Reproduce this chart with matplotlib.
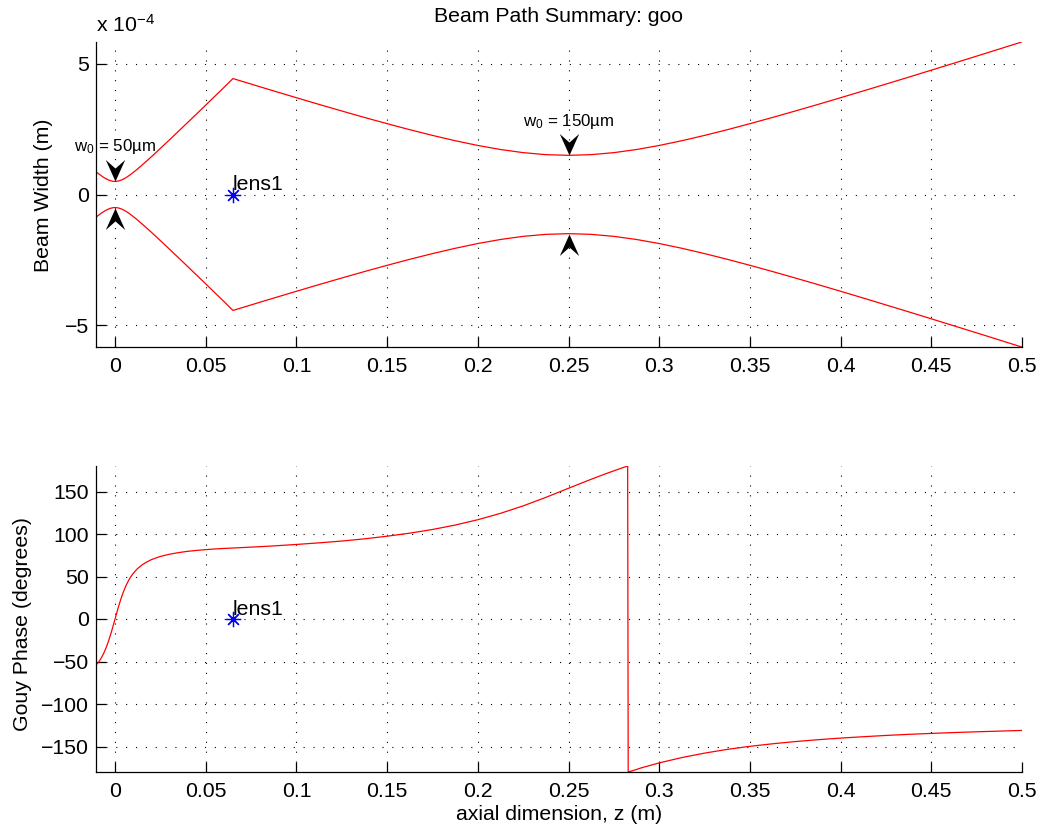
import numpy as np
import matplotlib
matplotlib.use("Agg")
import matplotlib.pyplot as plt
from matplotlib.path import Path
from matplotlib.ticker import FormatStrFormatter

plt.rcParams['font.family'] = ['Liberation Sans', 'DejaVu Sans']
plt.rcParams['mathtext.fontset'] = 'custom'
plt.rcParams['mathtext.rm'] = 'Liberation Sans'
plt.rcParams['mathtext.it'] = 'Liberation Sans'
plt.rcParams['lines.scale_dashes'] = False

RED = "#ff0000"
BLUE = "#0000ff"
FS = 15.3

# beam radius (units of 1e-4 m) along z (m)
z_beam = [-0.01, -0.00875, -0.0075, -0.00625, -0.005, -0.00375, -0.0025, -0.00125,
          0.0, 0.00125, 0.0025, 0.00375, 0.005, 0.00625, 0.0075, 0.00875, 0.01,
          0.01125, 0.0125, 0.015, 0.0175, 0.02, 0.0225, 0.025, 0.03, 0.035,
          0.04, 0.045, 0.05, 0.055, 0.06, 0.065,
          0.08, 0.0875, 0.1, 0.1125, 0.125, 0.1375, 0.15, 0.1625, 0.175, 0.1875,
          0.2, 0.2125, 0.225, 0.2375, 0.25, 0.2625, 0.275, 0.2875, 0.3, 0.3125,
          0.325, 0.3375, 0.35, 0.3625, 0.375, 0.3875, 0.4, 0.4125, 0.425, 0.4375,
          0.45, 0.4625, 0.475, 0.4875, 0.5]
w_beam = [0.842, 0.776, 0.713, 0.655, 0.604, 0.561, 0.528, 0.507,
          0.5, 0.507, 0.528, 0.561, 0.604, 0.655, 0.713, 0.776, 0.842,
          0.912, 0.984, 1.133, 1.287, 1.444, 1.604, 1.767, 2.093, 2.423,
          2.756, 3.089, 3.424, 3.760, 4.096, 4.44,
          4.123, 3.966, 3.706, 3.449, 3.198, 2.951, 2.712, 2.481, 2.263, 2.060,
          1.878, 1.723, 1.603, 1.526, 1.5, 1.526, 1.603, 1.723, 1.878, 2.060,
          2.263, 2.481, 2.712, 2.951, 3.198, 3.449, 3.706, 3.966, 4.229, 4.493,
          4.761, 5.029, 5.299, 5.571, 5.844]

# Gouy phase (degrees)
z_gouy = [-0.01, -0.00875, -0.0075, -0.00625, -0.005, -0.00375, -0.0025, -0.00125,
          0.0, 0.00125, 0.0025, 0.00375, 0.005, 0.00625, 0.0075, 0.00875, 0.01,
          0.01125, 0.0125, 0.015, 0.0175, 0.02, 0.0225, 0.025, 0.03, 0.035,
          0.04, 0.045, 0.05, 0.055, 0.06, 0.065,
          0.08, 0.0875, 0.1, 0.1125, 0.125, 0.1375, 0.15, 0.1625, 0.175, 0.1875,
          0.2, 0.2125, 0.225, 0.2375, 0.25, 0.26, 0.2625, 0.27, 0.28, 0.2826,
          0.2829, 0.2875, 0.29, 0.3, 0.3125, 0.325, 0.3375, 0.35, 0.3625, 0.375,
          0.3875, 0.4, 0.4125, 0.425, 0.4375, 0.45, 0.4625, 0.475, 0.4875, 0.5]
gouy = [-53.0, -49.9, -45.5, -40.3, -34.1, -26.9, -18.7, -9.6,
        0.0, 9.6, 18.7, 26.9, 34.1, 40.3, 45.5, 49.9, 53.6,
        56.7, 59.5, 63.8, 67.1, 69.8, 71.8, 73.6, 76.2, 78.1,
        79.6, 80.7, 81.6, 82.4, 83.0, 83.5,
        85.1, 86.0, 87.7, 89.6, 91.7, 94.3, 97.4, 101.0, 105.3, 110.5,
        116.8, 124.3, 133.1, 143.1, 153.8, 162.3, 164.4, 170.5, 178.1, 180.0,
        -180.0, -177.0, -175.2, -169.3, -163.0, -157.8, -153.4, -149.8, -146.8, -144.2,
        -142.0, -140.1, -138.5, -137.0, -135.7, -134.6, -133.6, -132.7, -131.9, -131.1]

# waists
waist_z = [0.0, 0.25]
waist_w = [0.5, 1.5]
waist_labels = [r"w$_0$ = 50µm", r"w$_0$ = 150µm"]
waist_label_y = [1.65, 2.63]

lens_z = [0.065]
lens_names = ["lens1"]

xticks = [0, 0.05, 0.1, 0.15, 0.2, 0.25, 0.3, 0.35, 0.4, 0.45, 0.5]

down_head = Path([(0, 0), (-0.45, 1), (0, 0.6), (0.45, 1), (0, 0)],
                 [Path.MOVETO, Path.LINETO, Path.LINETO, Path.LINETO, Path.CLOSEPOLY])
up_head = Path([(0, 0), (-0.45, -1), (0, -0.6), (0.45, -1), (0, 0)],
               [Path.MOVETO, Path.LINETO, Path.LINETO, Path.LINETO, Path.CLOSEPOLY])


def style(ax):
    for s in ["top", "right"]:
        ax.spines[s].set_visible(False)
    for s in ["left", "bottom"]:
        ax.spines[s].set_linewidth(0.9)
    ax.tick_params(direction="in", length=7, width=0.9, labelsize=FS)
    ax.tick_params(axis="x", pad=7)
    ax.tick_params(axis="y", pad=5)
    ax.grid(True, color="k", linewidth=0.8, linestyle=(0, (0.8, 6.3)))
    ax.set_xlim(-0.0105, 0.5)
    ax.set_xticks(xticks)
    ax.xaxis.set_major_formatter(FormatStrFormatter("%g"))


fig = plt.figure(figsize=(10.42, 8.32), dpi=100)
ax1 = fig.add_axes([96 / 1042, 1 - 347 / 832, 926 / 1042, 305 / 832])
ax2 = fig.add_axes([96 / 1042, 1 - 772 / 832, 926 / 1042, 306 / 832])

# top: beam width
style(ax1)
ax1.plot(z_beam, w_beam, color=RED, lw=0.9)
ax1.plot(z_beam, [-w for w in w_beam], color=RED, lw=0.9)
ax1.set_ylim(-5.84, 5.84)
ax1.set_yticks([-5, 0, 5])
ax1.set_yticklabels(["\u22125", "0", "5"])
for zw, ww, lab, ly in zip(waist_z, waist_w, waist_labels, waist_label_y):
    ax1.plot([zw], [ww], marker=down_head, ms=31, color="k", mec="none", ls="none")
    ax1.plot([zw], [-ww], marker=up_head, ms=31, color="k", mec="none", ls="none")
    ax1.text(zw, ly, lab, ha="center", va="baseline", fontsize=12.2)
for lz, name in zip(lens_z, lens_names):
    ax1.plot([lz], [0], marker=(8, 2, 0), ms=11, color=BLUE, mew=0.9, ls="none")
    ax1.text(lz, 0, name, ha="left", va="bottom", fontsize=FS)

# bottom: gouy phase
style(ax2)
ax2.plot(z_gouy, gouy, color=RED, lw=0.9)
ax2.set_ylim(-180, 180)
ax2.set_yticks([-150, -100, -50, 0, 50, 100, 150])
ax2.set_yticklabels(["\u2212150", "\u2212100", "\u221250", "0", "50", "100", "150"])
for lz, name in zip(lens_z, lens_names):
    ax2.plot([lz], [0], marker=(8, 2, 0), ms=11, color=BLUE, mew=0.9, ls="none")
    ax2.text(lz, 0, name, ha="left", va="bottom", fontsize=FS)

fig.text(559 / 1042, 1 - 17 / 832, "Beam Path Summary: goo", ha="center", va="center", fontsize=FS)
fig.text(96 / 1042, 1 - 32 / 832, r"x 10$^{-4}$", ha="left", va="baseline", fontsize=FS)
fig.text(43.5 / 1042, 1 - 195 / 832, "Beam Width (m)", rotation=90, ha="center", va="center", fontsize=FS)
fig.text(22.5 / 1042, 1 - 624 / 832, "Gouy Phase (degrees)", rotation=90, ha="center", va="center", fontsize=FS)
fig.text(559 / 1042, 1 - 815 / 832, "axial dimension, z (m)", ha="center", va="center", fontsize=FS)

fig.savefig("out.png", dpi=100)
